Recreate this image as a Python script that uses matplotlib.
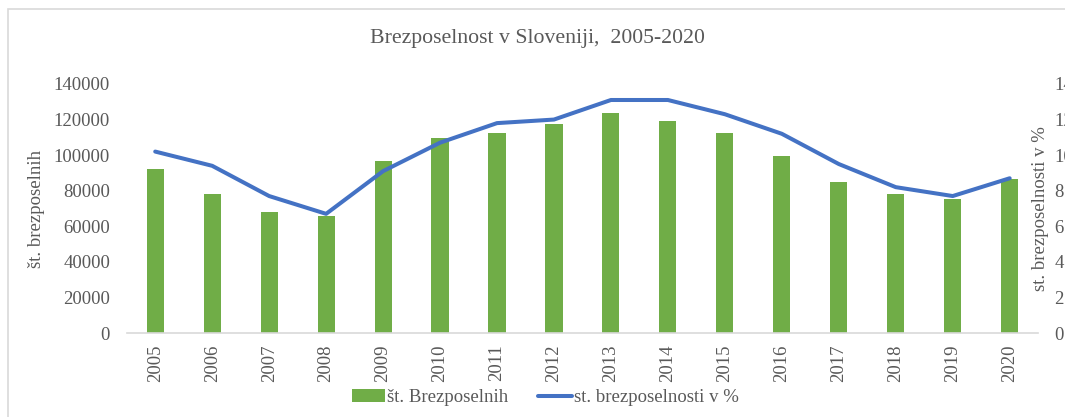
import matplotlib
matplotlib.use("Agg")
import matplotlib.pyplot as plt
from matplotlib.patches import Rectangle

# data
years = ["2005", "2006", "2007", "2008", "2009", "2010", "2011", "2012",
         "2013", "2014", "2015", "2016", "2017", "2018", "2019", "2020"]
unemployed = [92200, 78000, 68200, 66000, 96500, 109500, 112600, 117700,
              123500, 119200, 112600, 99500, 84700, 78300, 75200, 86700]
rate_pct = [10.2, 9.4, 7.7, 6.7, 9.1, 10.7, 11.8, 12.0,
            13.1, 13.1, 12.3, 11.2, 9.5, 8.2, 7.7, 8.7]
left_ticks = [0, 20000, 40000, 60000, 80000, 100000, 120000, 140000]
right_ticks = [0, 2, 4, 6, 8, 10, 12, 14]

green = "#70AD47"
blue = "#4472C4"
txt = "#595959"

plt.rcParams["font.family"] = ["Liberation Serif", "DejaVu Serif"]
plt.rcParams["font.size"] = 13.5

fig = plt.figure(figsize=(10.65, 4.17), dpi=100)
# outer chart border (cropped on right and bottom in the original)
fig.patches.append(Rectangle((8 / 1065, -0.1), 1.2, 1 - 9 / 417 + 0.1,
                             transform=fig.transFigure, fill=False,
                             edgecolor="#D9D9D9", linewidth=1.2))

ax = fig.add_axes([0.119, 0.2014, 0.8558, 0.5972])
x = list(range(len(years)))
bars = ax.bar(x, unemployed, width=0.3, color=green, label="št. Brezposelnih", zorder=2)
ax.set_xlim(-0.5, len(years) - 0.5)
ax.set_ylim(0, 140000)
ax.set_yticks(left_ticks)
ax.set_yticklabels([str(v) for v in left_ticks])
ax.set_xticks(x)
ax.set_xticklabels(years, rotation=90)
ax.tick_params(axis="both", length=0, colors=txt)
ax.tick_params(axis="x", pad=8)
ax.tick_params(axis="y", pad=12)
for side in ["top", "right", "left"]:
    ax.spines[side].set_visible(False)
ax.spines["bottom"].set_color("#D9D9D9")
ax.spines["bottom"].set_linewidth(1.2)
ax.set_ylabel("št. brezposelnih", color=txt)
ax.yaxis.set_label_coords(-0.0896, 0.5)

ax2 = ax.twinx()
line, = ax2.plot(x, rate_pct, color=blue, linewidth=2.9, label="st. brezposelnosti v %",
                 solid_capstyle="round", zorder=3)
ax2.set_ylim(0, 14)
ax2.set_yticks(right_ticks)
ax2.tick_params(axis="y", length=0, colors=txt, pad=11.5)
for side in ["top", "right", "left", "bottom"]:
    ax2.spines[side].set_visible(False)
ax2.set_ylabel("st. brezposelnosti v %", color=txt)
ax2.yaxis.set_label_coords(0.9932, 0.5)

fig.suptitle("Brezposelnost v Sloveniji,  2005-2020", x=0.505, y=0.93,
             fontsize=15.7, color=txt)

fig.legend([bars, line], ["št. Brezposelnih", "st. brezposelnosti v %"],
           loc="center", bbox_to_anchor=(0.512, 0.046), ncol=2, frameon=False,
           labelcolor=txt, handlelength=1.8, handletextpad=0.1, columnspacing=1.6)

fig.savefig("out.png", dpi=100)
